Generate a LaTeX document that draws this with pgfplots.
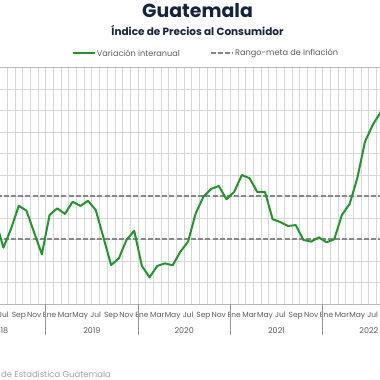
\documentclass[border=0pt]{standalone}
\usepackage{pgfplots}
\pgfplotsset{compat=1.18}
\usepackage{fontspec}
\setmainfont{Poppins}
\definecolor{lineg}{RGB}{30,150,40}
\definecolor{navy}{RGB}{20,36,64}
\definecolor{txt}{RGB}{89,89,89}
\definecolor{grd}{RGB}{215,215,215}
\definecolor{dsh}{RGB}{135,135,135}
\begin{document}
\begin{tikzpicture}[x=1bp,y=1bp]
\path[use as bounding box] (0,0) rectangle (380,380);
\clip (0,0) rectangle (380,380);
\begin{axis}[
  at={(-46.6bp,76bp)}, anchor=south west, scale only axis,
  width=461.6bp, height=236.5bp,
  xmin=-12.5, xmax=47.5, ymin=0, ymax=11,
  clip=false,
  xtick={-12,-10,...,46},
  xticklabels={Ene,Mar,May,Jul,Sep,Nov,Ene,Mar,May,Jul,Sep,Nov,Ene,Mar,May,Jul,Sep,Nov,Ene,Mar,May,Jul,Sep,Nov,Ene,Mar,May,Jul,Sep,Nov},
  minor xtick={-12.5,-11.5,...,47.5},
  xminorgrids=true, xmajorgrids=false,
  ytick={0,1,...,11}, ymajorgrids=true,
  yticklabel={\pgfmathprintnumber{\tick}\%},
  major tick length=0pt, minor tick length=0pt,
  xtick pos=lower,
  grid style={grd, line width=0.8bp},
  minor grid style={grd, line width=0.8bp},
  axis line style={grd!85!black, line width=0.8bp},
  tick label style={font=\fontsize{7.5}{8}\selectfont, text=txt},
  xticklabel style={anchor=base, yshift=-13.7bp},
  extra x ticks={-12.5,-0.5,11.5,23.5,35.5,47.5},
  extra x tick labels={},
  extra x tick style={major tick length=31bp, tick align=outside, xtick pos=lower, major tick style={grd!70!black, line width=0.9bp}},
]
\addplot[dsh, line width=2bp, dash pattern=on 5bp off 2.2bp] coordinates {(-12.5,3) (47.5,3)};
\addplot[dsh, line width=2bp, dash pattern=on 5bp off 2.2bp] coordinates {(-12.5,5) (47.5,5)};
\addplot[lineg, line width=2bp, line join=round] coordinates {
(-12,4.71) (-11,4.14) (-10,3.91) (-9,3.76) (-8,3.86) (-7,3.89)
(-6,2.62) (-5,3.50) (-4,4.57) (-3,4.34) (-2,3.32) (-1,2.31)
(0,4.14) (1,4.45) (2,4.19) (3,4.76) (4,4.56) (5,4.80)
(6,4.37) (7,3.10) (8,1.81) (9,2.12) (10,2.98) (11,3.41)
(12,1.77) (13,1.24) (14,1.77) (15,1.89) (16,1.80) (17,2.43)
(18,2.90) (19,4.22) (20,4.99) (21,5.35) (22,5.49) (23,4.87)
(24,5.22) (25,6.00) (26,5.85) (27,5.21) (28,5.21) (29,3.94)
(30,3.81) (31,3.63) (32,3.67) (33,2.98) (34,2.90) (35,3.10)
(36,2.87) (37,3.01) (38,4.14) (39,4.65) (40,5.85) (41,7.55)
(42,8.33) (43,8.90) (44,9.67)
};
\node[anchor=base, yshift=-29.3bp, font=\fontsize{8}{9}\selectfont, text=txt] at (axis cs:-6.5,0) {2018};
\node[anchor=base, yshift=-29.3bp, font=\fontsize{8}{9}\selectfont, text=txt] at (axis cs:5.5,0) {2019};
\node[anchor=base, yshift=-29.3bp, font=\fontsize{8}{9}\selectfont, text=txt] at (axis cs:17.5,0) {2020};
\node[anchor=base, yshift=-29.3bp, font=\fontsize{8}{9}\selectfont, text=txt] at (axis cs:29.5,0) {2021};
\node[anchor=base, yshift=-29.3bp, font=\fontsize{8}{9}\selectfont, text=txt] at (axis cs:41.5,0) {2022};
\end{axis}
\node[anchor=base, font=\fontsize{19}{20}\selectfont\bfseries, text=navy] at (197.5,362.7) {Guatemala};
\node[anchor=base, font=\fontsize{10.5}{12}\selectfont\bfseries, text=navy] at (197.5,345) {Índice de Precios al Consumidor};
\draw[lineg, line width=2bp] (73,327) -- (95,327);
\node[anchor=west, inner sep=0pt, font=\fontsize{8.2}{9}\selectfont, text=txt] at (96.7,327) {Variación interanual};
\draw[dsh, line width=2bp, dash pattern=on 5bp off 2.2bp] (210.7,327) -- (233.3,327);
\node[anchor=west, inner sep=0pt, font=\fontsize{8.2}{9}\selectfont, text=txt] at (235,327) {Rango-meta de Inflación};
\node[anchor=base east, inner sep=0pt, font=\fontsize{8.5}{9}\selectfont, text=gray!75] at (-2,3) {Fuente: Instituto Nacional};
\node[anchor=base west, inner sep=0pt, font=\fontsize{8.5}{9}\selectfont, text=gray!75] at (1,3) {de Estadística Guatemala};
\end{tikzpicture}
\end{document}
